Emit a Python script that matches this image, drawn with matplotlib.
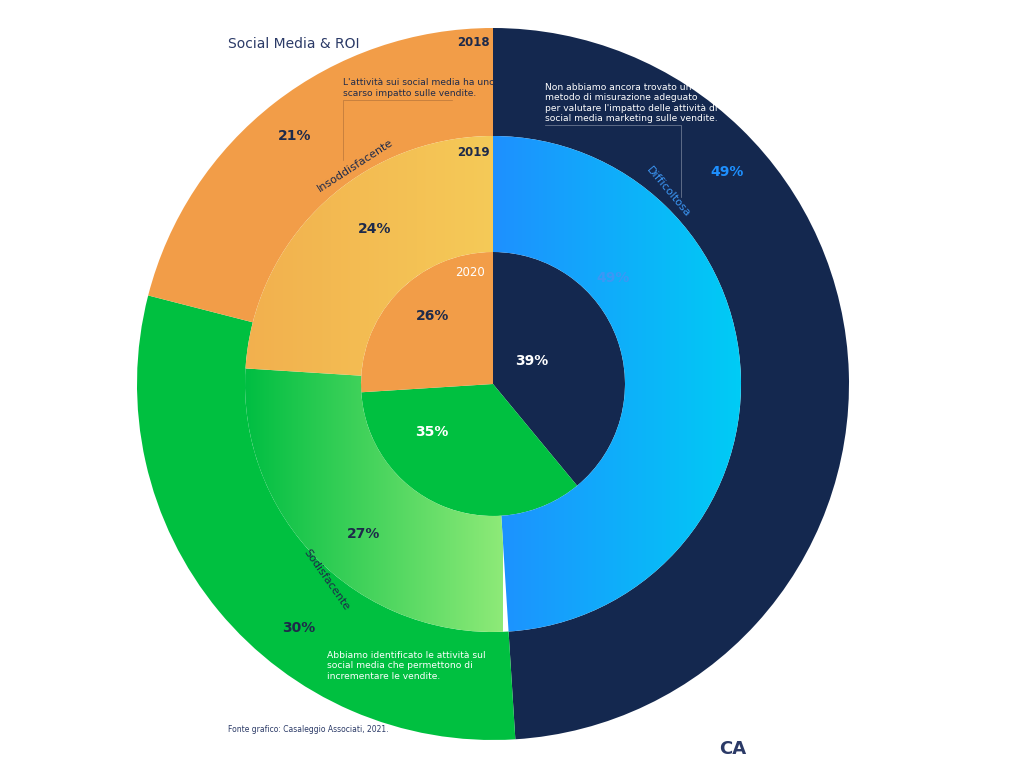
import numpy as np
import matplotlib.pyplot as plt
from matplotlib.patches import Wedge
from matplotlib.colors import LinearSegmentedColormap

categories = ["Difficoltosa", "Sodisfacente", "Insoddisfacente"]
years = ["2018", "2019", "2020"]
values_2018 = [49, 30, 21]
values_2019 = [49, 27, 24]
values_2020 = [39, 35, 26]

NAVY = "#14284F"
GREEN = "#00C040"
ORANGE = "#F29D48"
CX, CY = 493, 384
RINGS = [(356, 108, values_2018), (248, 116, values_2019), (132, 132, values_2020)]

fig = plt.figure(figsize=(10.24, 7.68), dpi=100)
ax = fig.add_axes([0, 0, 1, 1])
ax.set_xlim(0, 1024)
ax.set_ylim(0, 768)
ax.set_aspect("equal")
ax.axis("off")


def y(py):
    return 768 - py


def spans(values):
    out, start = [], 90.0
    for v in values:
        end = start - v * 3.6
        out.append((end, start))
        start = end
    return out


solid = [NAVY, GREEN, ORANGE]
gradients = [["#1E90FF", "#00CCF5"], ["#00BE42", "#8EEA78"], ["#F2B04E", "#F5CB58"]]
for ring_idx, (r, w, vals) in enumerate(RINGS):
    for i, (t1, t2) in enumerate(spans(vals)):
        if ring_idx == 1:
            wedge = Wedge((CX, y(CY)), r, t1, t2, width=w, facecolor="none", edgecolor="none")
            ax.add_patch(wedge)
            cmap = LinearSegmentedColormap.from_list("g", gradients[i])
            grad = np.linspace(0, 1, 256).reshape(1, -1)
            if i == 0:
                ext = (CX, CX + r, y(CY) - r, y(CY) + r)
            else:
                ext = (CX - r, CX + 10, y(CY) - r, y(CY) + r)
            im = ax.imshow(grad, cmap=cmap, extent=ext, aspect="auto", zorder=2)
            im.set_clip_path(wedge)
        else:
            ax.add_patch(Wedge((CX, y(CY)), r, t1, t2, width=w, facecolor=solid[i],
                               edgecolor="none", zorder=1))

DARK = "#1E2A4A"
pct_labels = [
    (727, 172, "49%", "#1E90FF"), (299, 628, "30%", DARK), (295, 136, "21%", DARK),
    (613, 278, "49%", "#3C97F5"), (364, 534, "27%", DARK), (375, 229, "24%", DARK),
    (532, 361, "39%", "white"), (432, 432, "35%", "white"), (433, 316, "26%", DARK),
]
for px, py, txt, col in pct_labels:
    ax.text(px, y(py), txt, color=col, fontsize=10, fontweight="bold",
            ha="center", va="center", zorder=5, family="DejaVu Sans")

for px, py, txt, col in [(473, 43, years[0], DARK), (473, 152, years[1], DARK),
                         (470, 272, years[2], "white")]:
    ax.text(px, y(py), txt, color=col, fontsize=8.5,
            fontweight="bold" if txt != years[2] else "normal",
            ha="center", va="center", zorder=5)

ax.text(668, y(192), categories[0], rotation=-50, color="#3C97F5", fontsize=8,
        ha="center", va="center", zorder=5)
ax.text(326, y(580), categories[1], rotation=-55, color=DARK, fontsize=8,
        ha="center", va="center", zorder=5)
ax.text(355, y(165), categories[2], rotation=33, color=DARK, fontsize=8,
        ha="center", va="center", zorder=5)

ax.text(545, y(103), "Non abbiamo ancora trovato un\nmetodo di misurazione adeguato\n"
        "per valutare l'impatto delle attività di\nsocial media marketing sulle vendite.",
        color="white", fontsize=6.6, ha="left", va="center", linespacing=1.2, zorder=5)
ax.plot([545, 681, 681], [y(125), y(125), y(197)], color="#7A869E", lw=0.5, zorder=4)
ax.text(343, y(88), "L'attività sui social media ha uno\nscarso impatto sulle vendite.",
        color=DARK, fontsize=6.6, ha="left", va="center", linespacing=1.2, zorder=5)
ax.plot([452, 343, 343], [y(100), y(100), y(160)], color="#B8763A", lw=0.5, zorder=4)
ax.text(327, y(666), "Abbiamo identificato le attività sul\nsocial media che permettono di\n"
        "incrementare le vendite.", color="white", fontsize=6.6, ha="left",
        va="center", linespacing=1.2, zorder=5)

ax.text(228, y(44), "Social Media & ROI", color="#2B3A67", fontsize=10,
        ha="left", va="center")
ax.text(228, y(730), "Fonte grafico: Casaleggio Associati, 2021.", color="#2B3A67",
        fontsize=5.5, ha="left", va="center")
ax.text(733, y(749), "CA", color="#2B3A67", fontsize=13, fontweight="bold",
        ha="center", va="center")

fig.savefig("out.png", dpi=100)
